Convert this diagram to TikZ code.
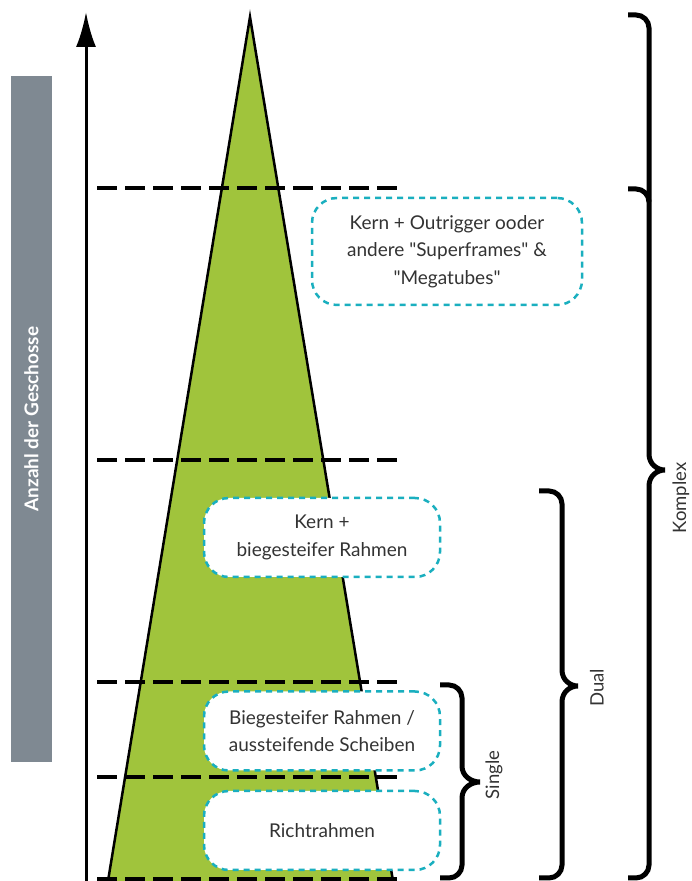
\documentclass[tikz,border=0pt]{standalone}
\usepackage{fontspec}
\setmainfont{Lato}
\usepackage{tikz}
\usetikzlibrary{arrows.meta}
\usetikzlibrary{positioning}
\definecolor{tower}{RGB}{160,196,60}
\definecolor{barGray}{RGB}{127,137,146}
\definecolor{boxTeal}{RGB}{26,175,191}
\definecolor{txtGray}{RGB}{51,51,51}
\tikzset{>=latex}
\tikzstyle{level} = [draw=black, line width=3.5pt, dash pattern=on 20pt off 8pt]
\tikzstyle{system} = [rectangle, rounded corners=25pt, draw=boxTeal, line width=2.5pt, dash pattern=on 6pt off 5pt, fill=white, align=center, text=txtGray, font=\fontsize{19}{27.5}\selectfont, inner sep=0]
\tikzstyle{bracket} = [draw=black, line width=5pt]
\tikzstyle{spanlabel} = [rotate=90, text=txtGray, font=\fontsize{18.5}{22}\selectfont, inner sep=0]

\begin{document}
\begin{tikzpicture}[x=1pt, y=1pt]
\useasboundingbox (0,0) rectangle (691,881);
% label bar
\node [rectangle, fill=barGray, minimum width=686pt, minimum height=41pt, rotate=90, text=white, font=\fontsize{19}{22}\selectfont\bfseries] (bar) at (31.5,462) {Anzahl der Geschosse};
% tower
\fill [tower] (250,864) -- (393,0) -- (108,0) -- cycle;
\draw [line width=2.5pt] (108,0) -- (250,864) -- (393,0);
% axis
\coordinate (origin) at (86,0);
\coordinate (top) at (86,869);
\draw [-{Latex[length=35pt, width=20pt]}, line width=3pt] (origin) -- (top);
% levels
\coordinate (l1) at (97,693); \coordinate (r1) at (402,693);
\coordinate (l2) at (97,421); \coordinate (r2) at (402,421);
\coordinate (l3) at (97,199); \coordinate (r3) at (402,199);
\coordinate (l4) at (97,104); \coordinate (r4) at (402,104);
\coordinate (l5) at (97,2);   \coordinate (r5) at (402,2);
\draw [level] (l1) -- (r1);
\draw [level] (l2) -- (r2);
\draw [level] (l3) -- (r3);
\draw [level] (l4) -- (r4);
\draw [level] (l5) -- (r5);
% systems
\node [system, minimum width=270pt, minimum height=107pt] (mega) at (447,629.5) {Kern + Outrigger ooder\\andere \textquotedbl Superframes\textquotedbl{} \&\\\textquotedbl Megatubes\textquotedbl};
\node [system, minimum width=236pt, minimum height=79pt] (kern) at (322,343.5) {Kern +\\biegesteifer Rahmen};
\node [system, minimum width=236pt, minimum height=79pt] (biege) at (322,150) {Biegesteifer Rahmen /\\aussteifende Scheiben};
\node [system, minimum width=236pt, minimum height=79pt, below=18pt of biege] (richt) {Richtrahmen};
% braces
\draw [bracket] (440,196) -- (449,196) arc [start angle=90, end angle=0, radius=13] -- (462,115)
  .. controls (462,105) and (471,99) .. (480,99) .. controls (471,99) and (462,93) .. (462,83)
  -- (462,16) arc [start angle=0, end angle=-90, radius=13] -- (440,3);
\draw [bracket] (539,390) -- (549,390) arc [start angle=90, end angle=0, radius=13] -- (562,211)
  .. controls (562,201) and (570,195) .. (578,195) .. controls (570,195) and (562,189) .. (562,179)
  -- (562,16) arc [start angle=0, end angle=-90, radius=13] -- (539,3);
\draw [bracket] (628,866) -- (636,866) arc [start angle=90, end angle=0, radius=13] -- (649,427)
  .. controls (649,417) and (657,411) .. (665,411) .. controls (657,411) and (649,405) .. (649,395)
  -- (649,16) arc [start angle=0, end angle=-90, radius=13] -- (628,3);
\draw [bracket] (628,692) -- (636,692) arc [start angle=90, end angle=0, radius=13];
\node [spanlabel] (single) at (494,106) {Single};
\node [spanlabel] (dual) at (597,193) {Dual};
\node [spanlabel] (komplex) at (681,383) {Komplex};
\end{tikzpicture}
\end{document}
